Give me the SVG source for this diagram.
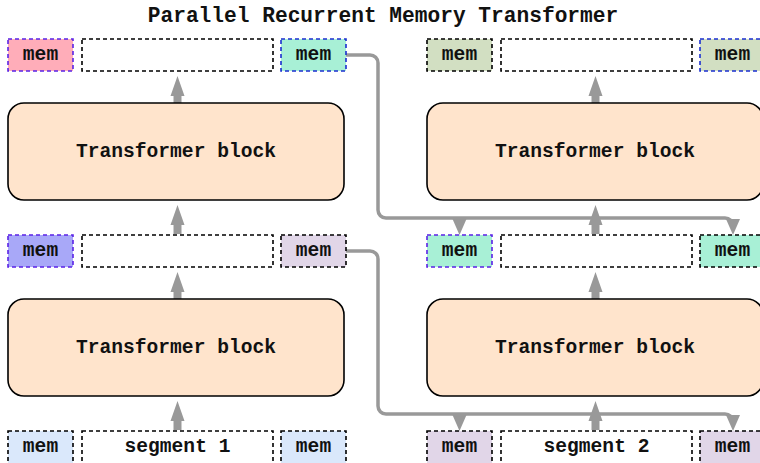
<svg xmlns="http://www.w3.org/2000/svg" width="760" height="463" viewBox="0 0 760 463">
<style>
text{font-family:"Liberation Mono","Courier New",monospace;font-weight:bold;fill:#111;text-anchor:middle;dominant-baseline:central}
.t{font-size:19.6px}
.title{font-size:21.2px}
.blk{fill:#ffe4cc;stroke:#000;stroke-width:1.6}
.seq{fill:#fff;stroke:#000;stroke-width:1.6;stroke-dasharray:4 3}
.mb{stroke:#000;stroke-width:1.6;stroke-dasharray:4 3}
.mbb{stroke:#1a2fd0;stroke-width:1.6;stroke-dasharray:4 3}
.mbp{stroke:#5a22e6;stroke-width:1.6;stroke-dasharray:4 3}
.ln{fill:none;stroke:#999;stroke-width:3.5}
.ah{fill:#999}
</style>
<text class="title" x="383" y="16">Parallel Recurrent Memory Transformer</text>

<g id="connectors">
<path class="ln" d="M346,55 H370 a8 8 0 0 1 8 8 V210 a8 8 0 0 0 8 8 H725 a8 8 0 0 1 8 8 V224"/>
<polygon class="ah" points="726,219 740,219 733,235"/>
<polygon class="ah" points="452.5,219 466.5,219 459.5,235"/>
<path class="ln" d="M346,251 H370 a8 8 0 0 1 8 8 V406 a8 8 0 0 0 8 8 H725 a8 8 0 0 1 8 8 V420"/>
<polygon class="ah" points="726,415 740,415 733,431"/>
<polygon class="ah" points="452.5,415 466.5,415 459.5,431"/>
<!-- up arrows left column -->
<polygon class="ah" points="177.5,76 184.5,96 181.5,96 181.5,103 173.5,103 173.5,96 170.5,96"/>
<polygon class="ah" points="177.5,205 184.5,225 181.5,225 181.5,234 173.5,234 173.5,225 170.5,225"/>
<polygon class="ah" points="177.5,272 184.5,292 181.5,292 181.5,299 173.5,299 173.5,292 170.5,292"/>
<polygon class="ah" points="177.5,401 184.5,421 181.5,421 181.5,430 173.5,430 173.5,421 170.5,421"/>
<!-- up arrows right column -->
<polygon class="ah" points="595.5,76 602.5,96 599.5,96 599.5,103 591.5,103 591.5,96 588.5,96"/>
<polygon class="ah" points="595.5,205 602.5,225 599.5,225 599.5,234 591.5,234 591.5,225 588.5,225"/>
<polygon class="ah" points="595.5,272 602.5,292 599.5,292 599.5,299 591.5,299 591.5,292 588.5,292"/>
<polygon class="ah" points="595.5,401 602.5,421 599.5,421 599.5,430 591.5,430 591.5,421 588.5,421"/>
</g>

<!-- left column -->
<g id="L_top_mem_l"><rect class="mbp" x="8" y="39" width="65" height="32" fill="#ffadb9"/><text class="t" x="40.5" y="55">mem</text></g>
<g id="L_top_seq"><rect class="seq" x="82" y="39" width="191" height="32"/></g>
<g id="L_top_mem_r"><rect class="mbb" x="281" y="39" width="65" height="32" fill="#a8f0d6"/><text class="t" x="313.5" y="55">mem</text></g>
<g id="L_block1"><rect class="blk" x="8" y="103" width="336" height="97" rx="16"/><text class="t" x="176" y="151.5">Transformer block</text></g>
<g id="L_mid_mem_l"><rect class="mbp" x="8" y="235" width="65" height="32" fill="#a8a8f8"/><text class="t" x="40.5" y="251">mem</text></g>
<g id="L_mid_seq"><rect class="seq" x="82" y="235" width="191" height="32"/></g>
<g id="L_mid_mem_r"><rect class="mb" x="281" y="235" width="65" height="32" fill="#e1d6e8"/><text class="t" x="313.5" y="251">mem</text></g>
<g id="L_block2"><rect class="blk" x="8" y="299" width="336" height="97" rx="16"/><text class="t" x="176" y="347.5">Transformer block</text></g>
<g id="L_bot_mem_l"><rect class="mb" x="8" y="431" width="65" height="34" fill="#dae8fb"/><text class="t" x="40.5" y="447">mem</text></g>
<g id="L_bot_seq"><rect class="seq" x="82" y="431" width="191" height="34"/><text class="t" x="177.5" y="447">segment 1</text></g>
<g id="L_bot_mem_r"><rect class="mb" x="281" y="431" width="65" height="34" fill="#dae8fb"/><text class="t" x="313.5" y="447">mem</text></g>

<!-- right column -->
<g id="R_top_mem_l"><rect class="mb" x="427" y="39" width="65" height="32" fill="#d2dfc2"/><text class="t" x="459.5" y="55">mem</text></g>
<g id="R_top_seq"><rect class="seq" x="501" y="39" width="191" height="32"/></g>
<g id="R_top_mem_r"><rect class="mbb" x="700" y="39" width="65" height="32" fill="#d2dfc2"/><text class="t" x="732.5" y="55">mem</text></g>
<g id="R_block1"><rect class="blk" x="427" y="103" width="336" height="97" rx="16"/><text class="t" x="595" y="151.5">Transformer block</text></g>
<g id="R_mid_mem_l"><rect class="mbp" x="427" y="235" width="65" height="32" fill="#a8f0d6"/><text class="t" x="459.5" y="251">mem</text></g>
<g id="R_mid_seq"><rect class="seq" x="501" y="235" width="191" height="32"/></g>
<g id="R_mid_mem_r"><rect class="mb" x="700" y="235" width="65" height="32" fill="#a8f0d6"/><text class="t" x="732.5" y="251">mem</text></g>
<g id="R_block2"><rect class="blk" x="427" y="299" width="336" height="97" rx="16"/><text class="t" x="595" y="347.5">Transformer block</text></g>
<g id="R_bot_mem_l"><rect class="mb" x="427" y="431" width="65" height="34" fill="#e1d6e8"/><text class="t" x="459.5" y="447">mem</text></g>
<g id="R_bot_seq"><rect class="seq" x="501" y="431" width="191" height="34"/><text class="t" x="596.5" y="447">segment 2</text></g>
<g id="R_bot_mem_r"><rect class="mb" x="700" y="431" width="65" height="34" fill="#e1d6e8"/><text class="t" x="732.5" y="447">mem</text></g>
</svg>
